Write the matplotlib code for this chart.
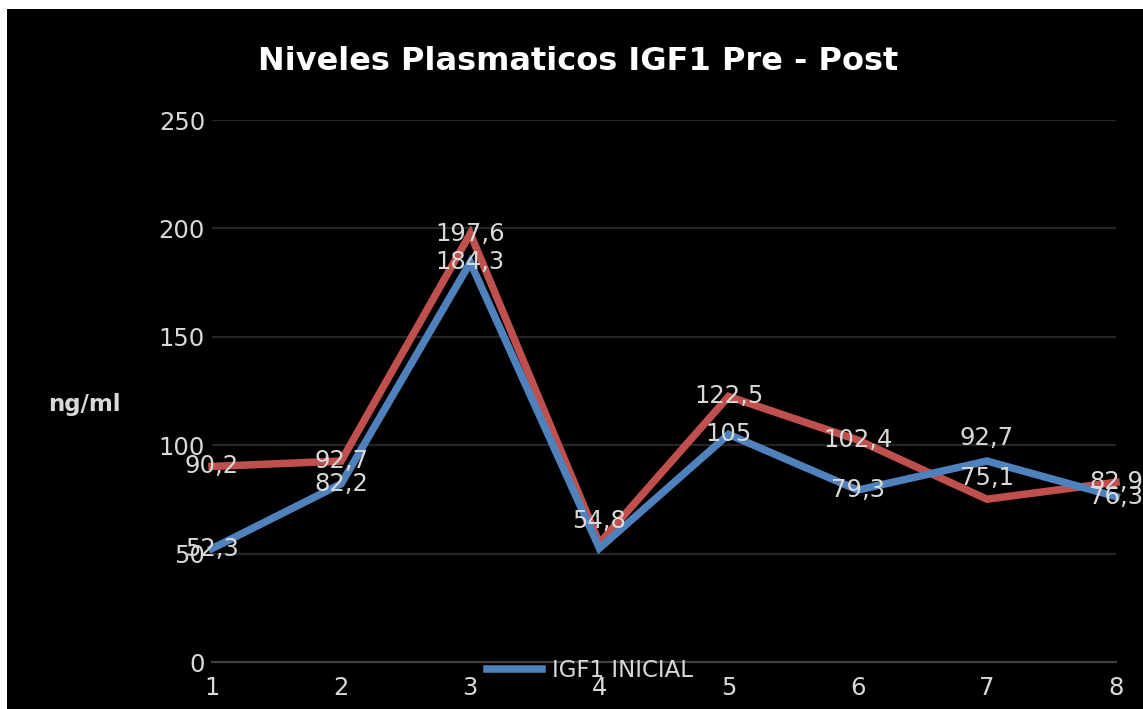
import matplotlib
matplotlib.use('Agg')
import matplotlib.pyplot as plt
import matplotlib.patches as mpatches

# data
muestras = [1, 2, 3, 4, 5, 6, 7, 8]
igf1_inicial = [52.3, 82.2, 184.3, 52.5, 105, 79.3, 92.7, 76.3]
igf1_final = [90.2, 92.7, 197.6, 54.8, 122.5, 102.4, 75.1, 82.9]
etiq_inicial = ["52,3", "82,2", "184,3", None, "105", "79,3", "92,7", "76,3"]
etiq_final = ["90,2", "92,7", "197,6", "54,8", "122,5", "102,4", "75,1", "82,9"]
# labels lifted above the point (in pixels)
sube_inicial = [0, 0, 0, 0, 0, 0, 23, 0]
sube_final = [0, 0, 0, 22, 0, 0, 21, 0]
yticks = [0, 50, 100, 150, 200, 250]

AZUL = '#4f81bd'
ROJO = '#c0504d'
TXT = '#d9d9d9'

fig = plt.figure(figsize=(11.43, 7.09), dpi=100, facecolor='white')
# black chart area with a thin white margin top/left
fig.patches.append(mpatches.Rectangle((7 / 1143, 0), 1 - 7 / 1143, 1 - 9 / 709,
                                      transform=fig.transFigure, facecolor='black',
                                      edgecolor='none', zorder=-10))

ax = fig.add_axes([212 / 1143, 1 - 662 / 709, (1116 - 212) / 1143, (662 - 120) / 709])
ax.set_facecolor('black')
ax.set_xlim(1, 8)
ax.set_ylim(0, 250)

for y in yticks[1:]:
    ax.axhline(y, color='#262626', lw=1.6, zorder=1)
ax.axhline(0, color='#404040', lw=1.6, zorder=1, clip_on=False)

ax.plot(muestras, igf1_inicial, color=AZUL, lw=5.4, label='IGF1 INICIAL', zorder=3,
        solid_joinstyle='miter', clip_on=False)
ax.plot(muestras, igf1_final, color=ROJO, lw=5.4, label='_nolegend_', zorder=2,
        solid_joinstyle='miter', clip_on=False)

for x, y, t, d in zip(muestras, igf1_inicial, etiq_inicial, sube_inicial):
    if t:
        ax.annotate(t, (x, y), xytext=(0, d * 0.72), textcoords='offset points',
                    ha='center', va='center', color=TXT, fontsize=17.5, zorder=5,
                    annotation_clip=False)
for x, y, t, d in zip(muestras, igf1_final, etiq_final, sube_final):
    if t:
        ax.annotate(t, (x, y), xytext=(0, d * 0.72), textcoords='offset points',
                    ha='center', va='center', color=TXT, fontsize=17.5, zorder=5,
                    annotation_clip=False)

for s in ax.spines.values():
    s.set_visible(False)
ax.set_yticks(yticks)
ax.set_xticks(muestras)
ax.tick_params(length=0, colors=TXT, labelsize=17.5)
ax.tick_params(axis='y', pad=5)
ax.tick_params(axis='x', pad=10)

fig.text(84 / 1143, 1 - 404 / 709, 'ng/ml', color=TXT, fontsize=16.5, fontweight='bold',
         ha='center', va='center')
fig.text(578 / 1143, 1 - 62 / 709, 'Niveles Plasmaticos IGF1 Pre - Post', color='white',
         fontsize=23, fontweight='bold', ha='center', va='center')

leg = ax.legend(loc='center', bbox_to_anchor=(0.418, -0.015), frameon=False,
                fontsize=16.5, handlelength=2.4, handletextpad=0.45)
for t in leg.get_texts():
    t.set_color(TXT)

fig.savefig('out.png', dpi=100, facecolor=fig.get_facecolor())
